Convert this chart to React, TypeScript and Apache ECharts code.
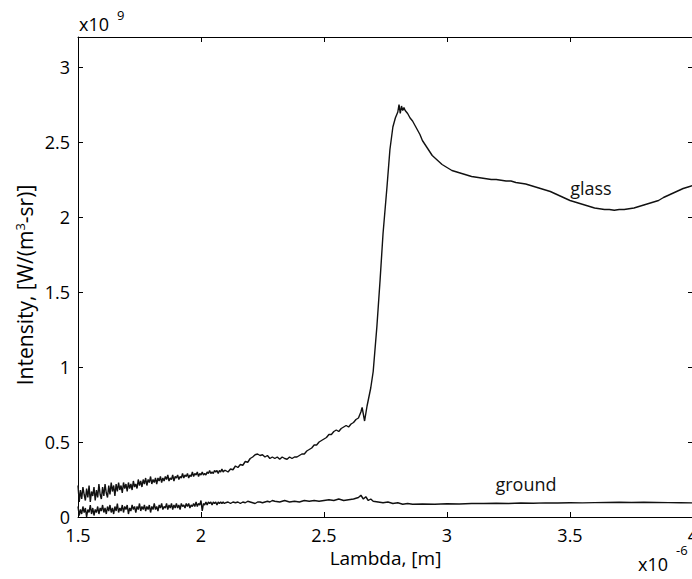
import React, { useEffect, useRef } from "react";
import * as echarts from "echarts";

// Wavelength (x10^-6 m) vs. radiance (x10^9 W/(m^3-sr)) for the glass sample
const glassSpectrum: [number, number][] = [
  [1.500, 0.21], [1.505, 0.10], [1.510, 0.18], [1.515, 0.12], [1.520, 0.20], [1.525, 0.15],
  [1.530, 0.11], [1.535, 0.19], [1.540, 0.13], [1.545, 0.21], [1.550, 0.10], [1.555, 0.17],
  [1.560, 0.14], [1.565, 0.20], [1.570, 0.11], [1.575, 0.18], [1.580, 0.13], [1.585, 0.22],
  [1.590, 0.15], [1.595, 0.12], [1.600, 0.20], [1.605, 0.14], [1.610, 0.22], [1.615, 0.16],
  [1.620, 0.13], [1.625, 0.21], [1.630, 0.15], [1.635, 0.23], [1.640, 0.17], [1.645, 0.21],
  [1.650, 0.14], [1.655, 0.22], [1.660, 0.17], [1.665, 0.23], [1.670, 0.18], [1.675, 0.21],
  [1.680, 0.16], [1.685, 0.23], [1.690, 0.19], [1.695, 0.22], [1.700, 0.17], [1.705, 0.23],
  [1.710, 0.19], [1.715, 0.22], [1.720, 0.18], [1.725, 0.24], [1.730, 0.20], [1.735, 0.22],
  [1.740, 0.19], [1.745, 0.25], [1.750, 0.21], [1.755, 0.24], [1.760, 0.20], [1.765, 0.25],
  [1.770, 0.22], [1.775, 0.26], [1.780, 0.21], [1.785, 0.25], [1.790, 0.23], [1.795, 0.27],
  [1.800, 0.22], [1.805, 0.25], [1.810, 0.23], [1.815, 0.26], [1.820, 0.22], [1.825, 0.26],
  [1.830, 0.24], [1.835, 0.27], [1.840, 0.23], [1.845, 0.26], [1.850, 0.24], [1.855, 0.27],
  [1.860, 0.25], [1.865, 0.28], [1.870, 0.24], [1.875, 0.26], [1.880, 0.25], [1.885, 0.28],
  [1.890, 0.24], [1.895, 0.27], [1.900, 0.26], [1.905, 0.28], [1.910, 0.25], [1.915, 0.27],
  [1.920, 0.26], [1.925, 0.29], [1.930, 0.26], [1.935, 0.28], [1.940, 0.27], [1.945, 0.29],
  [1.950, 0.26], [1.955, 0.28], [1.960, 0.27], [1.965, 0.30], [1.970, 0.27], [1.975, 0.29],
  [1.980, 0.28], [1.985, 0.30], [1.990, 0.27], [1.995, 0.29], [2.000, 0.28], [2.005, 0.30],
  [2.010, 0.28], [2.015, 0.29], [2.020, 0.28], [2.025, 0.30], [2.030, 0.29], [2.035, 0.31],
  [2.040, 0.29], [2.045, 0.30], [2.050, 0.29], [2.055, 0.31], [2.060, 0.30], [2.065, 0.31],
  [2.070, 0.29], [2.075, 0.31], [2.080, 0.30], [2.085, 0.32], [2.090, 0.30], [2.095, 0.31],
  [2.100, 0.31], [2.11, 0.30], [2.12, 0.32], [2.13, 0.315], [2.14, 0.34], [2.15, 0.33],
  [2.16, 0.35], [2.17, 0.345], [2.18, 0.37], [2.19, 0.365], [2.20, 0.39], [2.21, 0.40],
  [2.22, 0.415], [2.23, 0.42], [2.24, 0.41], [2.25, 0.415], [2.26, 0.40], [2.27, 0.41],
  [2.28, 0.39], [2.29, 0.40], [2.30, 0.39], [2.31, 0.40], [2.32, 0.385], [2.33, 0.40],
  [2.34, 0.39], [2.35, 0.385], [2.36, 0.40], [2.37, 0.39], [2.38, 0.40], [2.39, 0.40],
  [2.40, 0.41], [2.41, 0.42], [2.42, 0.42], [2.43, 0.44], [2.44, 0.45], [2.45, 0.46],
  [2.46, 0.48], [2.47, 0.48], [2.48, 0.50], [2.49, 0.51], [2.50, 0.52], [2.51, 0.53],
  [2.52, 0.55], [2.53, 0.55], [2.54, 0.57], [2.55, 0.58], [2.56, 0.57], [2.57, 0.59],
  [2.58, 0.60], [2.59, 0.61], [2.60, 0.60], [2.61, 0.62], [2.62, 0.63], [2.63, 0.65],
  [2.64, 0.66], [2.65, 0.70], [2.655, 0.73], [2.665, 0.64], [2.675, 0.74], [2.69, 0.86],
  [2.70, 0.97], [2.715, 1.27], [2.728, 1.58], [2.74, 1.89], [2.756, 2.20], [2.768, 2.45],
  [2.78, 2.60], [2.79, 2.66], [2.80, 2.70], [2.805, 2.75], [2.81, 2.69], [2.815, 2.74],
  [2.82, 2.71], [2.825, 2.73], [2.83, 2.71], [2.84, 2.69], [2.85, 2.66], [2.86, 2.64],
  [2.87, 2.61], [2.88, 2.58], [2.89, 2.55], [2.90, 2.51], [2.92, 2.46], [2.94, 2.41],
  [2.96, 2.38], [2.98, 2.35], [3.00, 2.33], [3.02, 2.31], [3.04, 2.30], [3.06, 2.29],
  [3.08, 2.28], [3.10, 2.27], [3.12, 2.265], [3.14, 2.26], [3.16, 2.255], [3.18, 2.25],
  [3.20, 2.25], [3.22, 2.245], [3.24, 2.24], [3.26, 2.24], [3.28, 2.23], [3.30, 2.225],
  [3.32, 2.22], [3.34, 2.21], [3.36, 2.20], [3.38, 2.19], [3.40, 2.18], [3.42, 2.17],
  [3.44, 2.155], [3.46, 2.14], [3.48, 2.125], [3.50, 2.11], [3.52, 2.10], [3.54, 2.09],
  [3.56, 2.08], [3.58, 2.07], [3.60, 2.06], [3.62, 2.055], [3.64, 2.05], [3.66, 2.05],
  [3.68, 2.045], [3.70, 2.05], [3.72, 2.05], [3.74, 2.055], [3.76, 2.06], [3.78, 2.07],
  [3.80, 2.08], [3.82, 2.09], [3.84, 2.10], [3.86, 2.11], [3.88, 2.13], [3.90, 2.145],
  [3.92, 2.16], [3.94, 2.175], [3.96, 2.19], [3.98, 2.20], [4.00, 2.21],
];

// Same measurement for the ground
const groundSpectrum: [number, number][] = [
  [1.500, 0.07], [1.505, 0.01], [1.510, 0.05], [1.515, 0.02], [1.520, 0.07], [1.525, 0.03],
  [1.530, 0.06], [1.535, 0.00], [1.540, 0.05], [1.545, 0.03], [1.550, 0.08], [1.555, 0.02],
  [1.560, 0.06], [1.565, 0.01], [1.570, 0.05], [1.575, 0.03], [1.580, 0.07], [1.585, 0.02],
  [1.590, 0.06], [1.595, 0.04], [1.600, 0.08], [1.605, 0.03], [1.610, 0.06], [1.615, 0.02],
  [1.620, 0.07], [1.625, 0.04], [1.630, 0.08], [1.635, 0.03], [1.640, 0.06], [1.645, 0.02],
  [1.650, 0.07], [1.655, 0.04], [1.660, 0.09], [1.665, 0.03], [1.670, 0.06], [1.675, 0.04],
  [1.680, 0.08], [1.685, 0.03], [1.690, 0.07], [1.695, 0.05], [1.700, 0.08], [1.705, 0.02],
  [1.710, 0.06], [1.715, 0.04], [1.720, 0.08], [1.725, 0.05], [1.730, 0.07], [1.735, 0.03],
  [1.740, 0.07], [1.745, 0.05], [1.750, 0.09], [1.755, 0.04], [1.760, 0.07], [1.765, 0.05],
  [1.770, 0.08], [1.775, 0.04], [1.780, 0.07], [1.785, 0.05], [1.790, 0.08], [1.795, 0.03],
  [1.800, 0.07], [1.805, 0.05], [1.810, 0.09], [1.815, 0.05], [1.820, 0.07], [1.825, 0.04],
  [1.830, 0.08], [1.835, 0.06], [1.840, 0.09], [1.845, 0.05], [1.850, 0.07], [1.855, 0.06],
  [1.860, 0.09], [1.865, 0.05], [1.870, 0.08], [1.875, 0.06], [1.880, 0.09], [1.885, 0.05],
  [1.890, 0.08], [1.895, 0.06], [1.900, 0.09], [1.905, 0.06], [1.910, 0.08], [1.915, 0.05],
  [1.920, 0.09], [1.925, 0.07], [1.930, 0.08], [1.935, 0.06], [1.940, 0.09], [1.945, 0.07],
  [1.950, 0.09], [1.955, 0.06], [1.960, 0.08], [1.965, 0.07], [1.970, 0.09], [1.975, 0.07],
  [1.980, 0.10], [1.985, 0.07], [1.990, 0.09], [1.995, 0.08], [2.000, 0.11], [2.005, 0.04],
  [2.010, 0.09], [2.015, 0.08], [2.020, 0.10], [2.025, 0.08], [2.030, 0.10], [2.035, 0.09],
  [2.040, 0.10], [2.045, 0.08], [2.050, 0.10], [2.055, 0.09], [2.060, 0.10], [2.065, 0.08],
  [2.070, 0.10], [2.075, 0.09], [2.080, 0.10], [2.085, 0.09], [2.090, 0.10], [2.095, 0.09],
  [2.100, 0.095], [2.11, 0.10], [2.12, 0.09], [2.13, 0.10], [2.14, 0.095], [2.15, 0.10],
  [2.16, 0.09], [2.17, 0.10], [2.18, 0.095], [2.19, 0.105], [2.20, 0.10], [2.21, 0.095],
  [2.22, 0.09], [2.23, 0.10], [2.24, 0.10], [2.25, 0.095], [2.26, 0.10], [2.27, 0.105],
  [2.28, 0.10], [2.29, 0.11], [2.30, 0.105], [2.32, 0.10], [2.34, 0.11], [2.36, 0.10],
  [2.38, 0.105], [2.40, 0.10], [2.42, 0.11], [2.44, 0.105], [2.46, 0.11], [2.48, 0.105],
  [2.50, 0.11], [2.52, 0.115], [2.54, 0.11], [2.56, 0.12], [2.58, 0.11], [2.60, 0.115],
  [2.62, 0.12], [2.64, 0.13], [2.65, 0.145], [2.66, 0.12], [2.67, 0.135], [2.68, 0.11],
  [2.69, 0.12], [2.70, 0.105], [2.72, 0.10], [2.74, 0.095], [2.76, 0.10], [2.78, 0.09],
  [2.80, 0.095], [2.82, 0.085], [2.84, 0.09], [2.86, 0.085], [2.90, 0.087], [2.95, 0.085],
  [3.00, 0.088], [3.05, 0.087], [3.10, 0.09], [3.15, 0.09], [3.20, 0.092], [3.25, 0.09],
  [3.30, 0.093], [3.35, 0.092], [3.40, 0.094], [3.45, 0.093], [3.50, 0.095], [3.55, 0.094],
  [3.60, 0.096], [3.65, 0.097], [3.70, 0.098], [3.75, 0.097], [3.80, 0.098], [3.85, 0.097],
  [3.90, 0.096], [3.95, 0.095], [4.00, 0.094],
];

const seriesNames = ["glass", "ground"];
const xRange = [1.5, 4];
const yRange = [0, 3.2];
const tickStep = 0.5;

const FONT = "'Open Sans', 'Noto Sans', sans-serif";
const INK = "#111";

export default function App() {
  const ref = useRef<HTMLDivElement>(null);

  useEffect(() => {
    if (!ref.current) return;
    const chart = echarts.init(ref.current, undefined, { renderer: "svg" });

    const axisLineStyle = { color: "#000", width: 1 };
    const baseX = {
      type: "value" as const,
      min: xRange[0],
      max: xRange[1],
      interval: tickStep,
      splitLine: { show: false },
      axisLine: { show: true, onZero: false, lineStyle: axisLineStyle },
      axisTick: { show: true, inside: true, length: 5, lineStyle: axisLineStyle },
    };
    const baseY = {
      type: "value" as const,
      min: yRange[0],
      max: yRange[1],
      interval: tickStep,
      splitLine: { show: false },
      axisLine: { show: true, onZero: false, lineStyle: axisLineStyle },
      axisTick: { show: true, inside: true, length: 5, lineStyle: axisLineStyle },
    };

    const labelStyle = (name: string) => ({
      show: true,
      position: "inside" as const,
      formatter: name,
      color: INK,
      fontSize: 18,
      fontFamily: FONT,
    });

    chart.setOption({
      animation: false,
      backgroundColor: "#fff",
      grid: {
        left: 78,
        right: -1,
        top: 37,
        bottom: 62,
        containLabel: false,
        outerBoundsMode: "none",
      },
      xAxis: [
        {
          ...baseX,
          position: "bottom",
          axisLabel: { color: "#000", fontSize: 18, fontFamily: FONT, margin: 10, lineHeight: 16 },
          name: "Lambda, [m]",
          nameLocation: "middle",
          nameGap: 26,
          nameTextStyle: { color: "#000", fontSize: 19, fontFamily: FONT },
        },
        { ...baseX, position: "top", axisLabel: { show: false } },
      ],
      yAxis: [
        {
          ...baseY,
          position: "left",
          axisLabel: {
            color: "#000",
            fontSize: 18,
            fontFamily: FONT,
            margin: 8,
            lineHeight: 12,
            formatter: (v: number) =>
              Math.abs(v / tickStep - Math.round(v / tickStep)) < 1e-6 ? String(v) : "",
          },
        },
        { ...baseY, position: "right", axisLabel: { show: false } },
      ],
      series: [
        {
          name: seriesNames[0],
          type: "line",
          data: glassSpectrum,
          showSymbol: false,
          clip: true,
          lineStyle: { color: INK, width: 1.4 },
          markPoint: {
            symbol: "circle",
            symbolSize: 0,
            data: [{ coord: [3.585, 2.193], label: labelStyle(seriesNames[0]) }],
          },
        },
        {
          name: seriesNames[1],
          type: "line",
          data: groundSpectrum,
          showSymbol: false,
          clip: true,
          lineStyle: { color: INK, width: 1.4 },
          markPoint: {
            symbol: "circle",
            symbolSize: 0,
            data: [{ coord: [3.321, 0.22], label: labelStyle(seriesNames[1]) }],
          },
        },
      ],
      graphic: [
        {
          // vertical axis title, rotated to read bottom-to-top
          type: "text",
          x: 25,
          y: 285,
          rotation: Math.PI / 2,
          style: {
            text: "Intensity, [W/(m{sup|3}-sr)]",
            fontSize: 21,
            fontFamily: FONT,
            fill: "#000",
            align: "center",
            verticalAlign: "middle",
            rich: {
              sup: { fontSize: 13, fontFamily: FONT, fill: "#000", padding: [0, 0, 11, 0] },
            },
          },
        },
        {
          type: "text",
          x: 79,
          y: 24,
          style: { text: "x10", fontSize: 18, fontFamily: FONT, fill: "#000", verticalAlign: "middle" },
        },
        {
          type: "text",
          x: 117,
          y: 15,
          style: { text: "9", fontSize: 13, fontFamily: FONT, fill: "#000", verticalAlign: "middle" },
        },
        {
          type: "text",
          x: 638,
          y: 564,
          style: { text: "x10", fontSize: 18, fontFamily: FONT, fill: "#000", verticalAlign: "middle" },
        },
        {
          type: "text",
          x: 676,
          y: 550,
          style: { text: "-6", fontSize: 13, fontFamily: FONT, fill: "#000", verticalAlign: "middle" },
        },
      ],
    });

    return () => chart.dispose();
  }, []);

  return (
    <div
      ref={ref}
      style={{ position: "fixed", left: 0, top: 0, width: 692, height: 579, background: "#fff" }}
    />
  );
}
